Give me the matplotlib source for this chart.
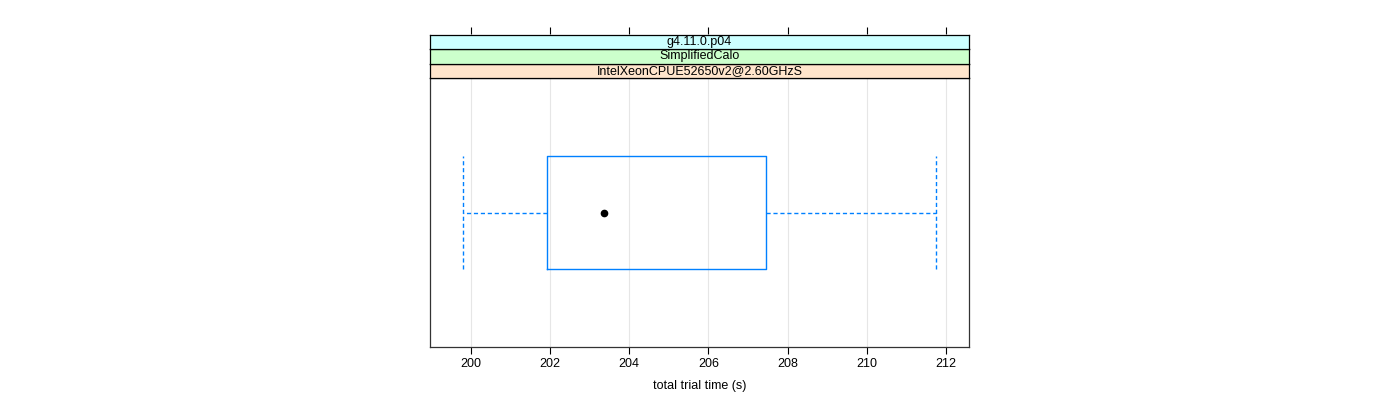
import numpy as np
import matplotlib.pyplot as plt

# --- data ---
strip_labels = ["g4.11.0.p04", "SimplifiedCalo", "IntelXeonCPUE52650v2@2.60GHzS"]
strip_colors = ["#CCFFFF", "#CCFFCC", "#FFE5CC"]
whisker_lo = 199.8
box_q1 = 201.92
median = 203.35
box_q3 = 207.45
whisker_hi = 211.75
x_ticks = [200, 202, 204, 206, 208, 210, 212]

plt.rcParams["font.family"] = ["Liberation Sans", "DejaVu Sans"]
BLUE = "#0080FF"

W, H = 1400, 400
fig = plt.figure(figsize=(14, 4), dpi=100)

left, right = 430, 969
plot_top, plot_bot = 78, 347
strip_h = 14.5
ax = fig.add_axes([left / W, 1 - plot_bot / H, (right - left) / W,
                   (plot_bot - plot_top) / H])

stats = [{
    "whislo": whisker_lo, "q1": box_q1, "med": median,
    "q3": box_q3, "whishi": whisker_hi, "fliers": [],
}]
ax.bxp(stats, positions=[1], widths=0.5, capwidths=0.5,
       orientation="horizontal", showfliers=False,
       boxprops=dict(color=BLUE, linewidth=1),
       whiskerprops=dict(color=BLUE, linewidth=1, linestyle=(0, (3, 2))),
       capprops=dict(color=BLUE, linewidth=1, linestyle=(0, (3, 2))),
       medianprops=dict(linestyle="none"))
ax.plot([median], [1], "o", color="black", markersize=4.5, zorder=5)

span = whisker_hi - whisker_lo
xlim = (whisker_lo - 0.07 * span, whisker_hi + 0.07 * span)
ax.set_xlim(xlim)
ax.set_ylim(0.4, 1.6)
ax.set_xticks(x_ticks)
ax.set_xticklabels([str(t) for t in x_ticks], fontsize=9)
ax.set_yticks([])
ax.tick_params(axis="x", direction="out", length=5, width=0.8,
               top=False, pad=3, colors="black")
ax.grid(axis="x", color="#E6E6E6", linewidth=0.8)
ax.set_axisbelow(True)
for s in ax.spines.values():
    s.set_color("#333333")
    s.set_linewidth(0.9)
ax.set_xlabel("total trial time (s)", fontsize=9, labelpad=7)

# strips stacked above the panel, bottom one first
for i, (lab, col) in enumerate(zip(strip_labels[::-1], strip_colors[::-1])):
    bot = plot_top - i * strip_h
    sax = fig.add_axes([left / W, 1 - bot / H, (right - left) / W, strip_h / H])
    sax.set_facecolor(col)
    sax.set_xticks([])
    sax.set_yticks([])
    for s in sax.spines.values():
        s.set_color("#000000")
        s.set_linewidth(0.9)
    sax.text(0.5, 0.5, lab, ha="center", va="center", fontsize=9,
             transform=sax.transAxes)

# top ticks sit above the strips (separate transparent axes)
top_edge = plot_top - 3 * strip_h
tax = fig.add_axes([left / W, 1 - top_edge / H, (right - left) / W, 0.001])
tax.patch.set_visible(False)
tax.set_xlim(xlim)
tax.set_xticks(x_ticks)
tax.set_xticklabels([])
tax.xaxis.set_ticks_position("top")
tax.tick_params(axis="x", direction="out", length=5, width=0.8,
                top=True, bottom=False)
tax.set_yticks([])
for s in tax.spines.values():
    s.set_visible(False)

fig.savefig("out.png", dpi=100)
